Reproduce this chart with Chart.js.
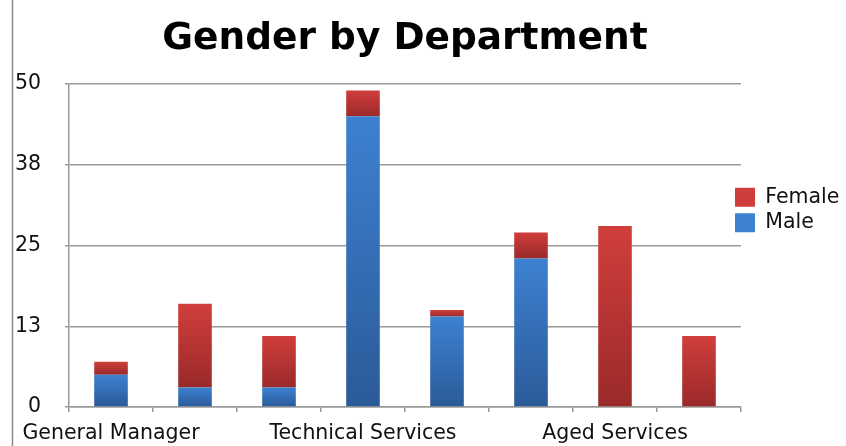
<!DOCTYPE html>
<html>
<head>
<meta charset="utf-8">
<script src="https://cdn.jsdelivr.net/npm/chart.js@4/dist/chart.umd.min.js"></script>
<style>
  html, body { margin: 0; padding: 0; background: #ffffff; }
  #wrap { width: 846px; height: 446px; position: relative; }
</style>
</head>
<body>
<div id="wrap"><canvas id="c" width="846" height="446"></canvas></div>
<script>
// ---- data ----
const categories = ["General Manager", "", "", "Technical Services", "", "", "Aged Services", ""];
const seriesNames = ["Male", "Female"];
const maleValues = [5, 3, 3, 45, 14, 23, 0, 0];
const femaleValues = [2, 13, 8, 4, 1, 4, 28, 11];
const yTickValues = [0, 12.5, 25, 37.5, 50];

// ---- styles ----
const FONT = "'DejaVu Sans', Verdana, sans-serif";
const BLUE = ["#3d81d1", "#2b5a98"];
const RED = ["#d03e3b", "#9a2a2a"];

function gradFill(stops, baseArr, valArr) {
  return function (c) {
    const chart = c.chart;
    const { ctx, chartArea, scales } = chart;
    if (!chartArea || c.type !== 'data' || !scales.y) return stops[0];
    const i = c.dataIndex;
    const base = baseArr ? baseArr[i] : 0;
    const top = base + valArr[i];
    const y0 = scales.y.getPixelForValue(top);
    const y1 = scales.y.getPixelForValue(base);
    if (!isFinite(y0) || !isFinite(y1) || y0 === y1) return stops[0];
    const g = ctx.createLinearGradient(0, y0, 0, y1);
    g.addColorStop(0, stops[0]);
    g.addColorStop(1, stops[1]);
    return g;
  };
}

const decor = {
  id: 'decor',
  afterLayout(chart) {
    const lg = chart.legend;
    if (lg) {
      lg.left -= 11;
      lg.top -= 13; lg.bottom -= 13;
    }
  },
  beforeDraw(chart) {
    const ctx = chart.ctx;
    ctx.save();
    ctx.fillStyle = '#ffffff';
    ctx.fillRect(0, 0, chart.width, chart.height);
    ctx.strokeStyle = '#8a8a8a';
    ctx.lineWidth = 1.5;
    ctx.beginPath();
    ctx.moveTo(12.5, 0);
    ctx.lineTo(12.5, chart.height);
    ctx.stroke();
    ctx.restore();
  }
};

new Chart(document.getElementById('c'), {
  type: 'bar',
  data: {
    labels: categories,
    datasets: [
      {
        label: seriesNames[0],
        data: maleValues,
        backgroundColor: gradFill(BLUE, null, maleValues),
        borderWidth: 0
      },
      {
        label: seriesNames[1],
        data: femaleValues,
        backgroundColor: gradFill(RED, maleValues, femaleValues),
        borderWidth: 0
      }
    ]
  },
  options: {
    responsive: false,
    animation: false,
    devicePixelRatio: 1,
    layout: { padding: { left: 15, right: 0, top: 0, bottom: 0 } },
    datasets: { bar: { categoryPercentage: 1.0, barPercentage: 0.4 } },
    plugins: {
      tooltip: { enabled: false },
      title: {
        display: true,
        text: 'Gender by Department',
        fullSize: false,
        color: '#000000',
        font: { family: FONT, size: 37.5, weight: 'bold' },
        padding: { top: 17, bottom: 22 }
      },
      legend: {
        position: 'right',
        reverse: true,
        maxWidth: 105,
        labels: {
          boxWidth: 20,
          boxHeight: 19,
          padding: 5,
          color: '#111111',
          font: { family: FONT, size: 20.5 }
        }
      }
    },
    scales: {
      x: {
        stacked: true,
        afterFit(scale) {
          scale.paddingLeft = 0;
          scale.paddingRight = 0;
          scale.height = 39;
        },
        grid: {
          display: true,
          offset: true,
          drawOnChartArea: false,
          drawTicks: true,
          tickLength: 5,
          color: '#9a9a9a',
          lineWidth: 1.5
        },
        border: { display: true, color: '#9a9a9a', width: 1.5 },
        ticks: {
          autoSkip: false,
          maxRotation: 0,
          padding: 10,
          color: '#111111',
          font: { family: FONT, size: 20.5, lineHeight: 1.15 }
        }
      },
      y: {
        stacked: true,
        min: 0,
        max: 50,
        afterBuildTicks(scale) {
          scale.ticks = yTickValues.map(v => ({ value: v }));
        },
        afterFit(scale) {
          scale.width = 54;
        },
        grid: {
          color: '#9a9a9a',
          lineWidth: 1.5,
          tickLength: 4
        },
        border: { display: true, color: '#9a9a9a', width: 1.5 },
        ticks: {
          padding: 24,
          color: '#111111',
          font: { family: FONT, size: 20.5 },
          callback: (v) => String(Math.round(v))
        }
      }
    }
  },
  plugins: [decor]
});
</script>
</body>
</html>
